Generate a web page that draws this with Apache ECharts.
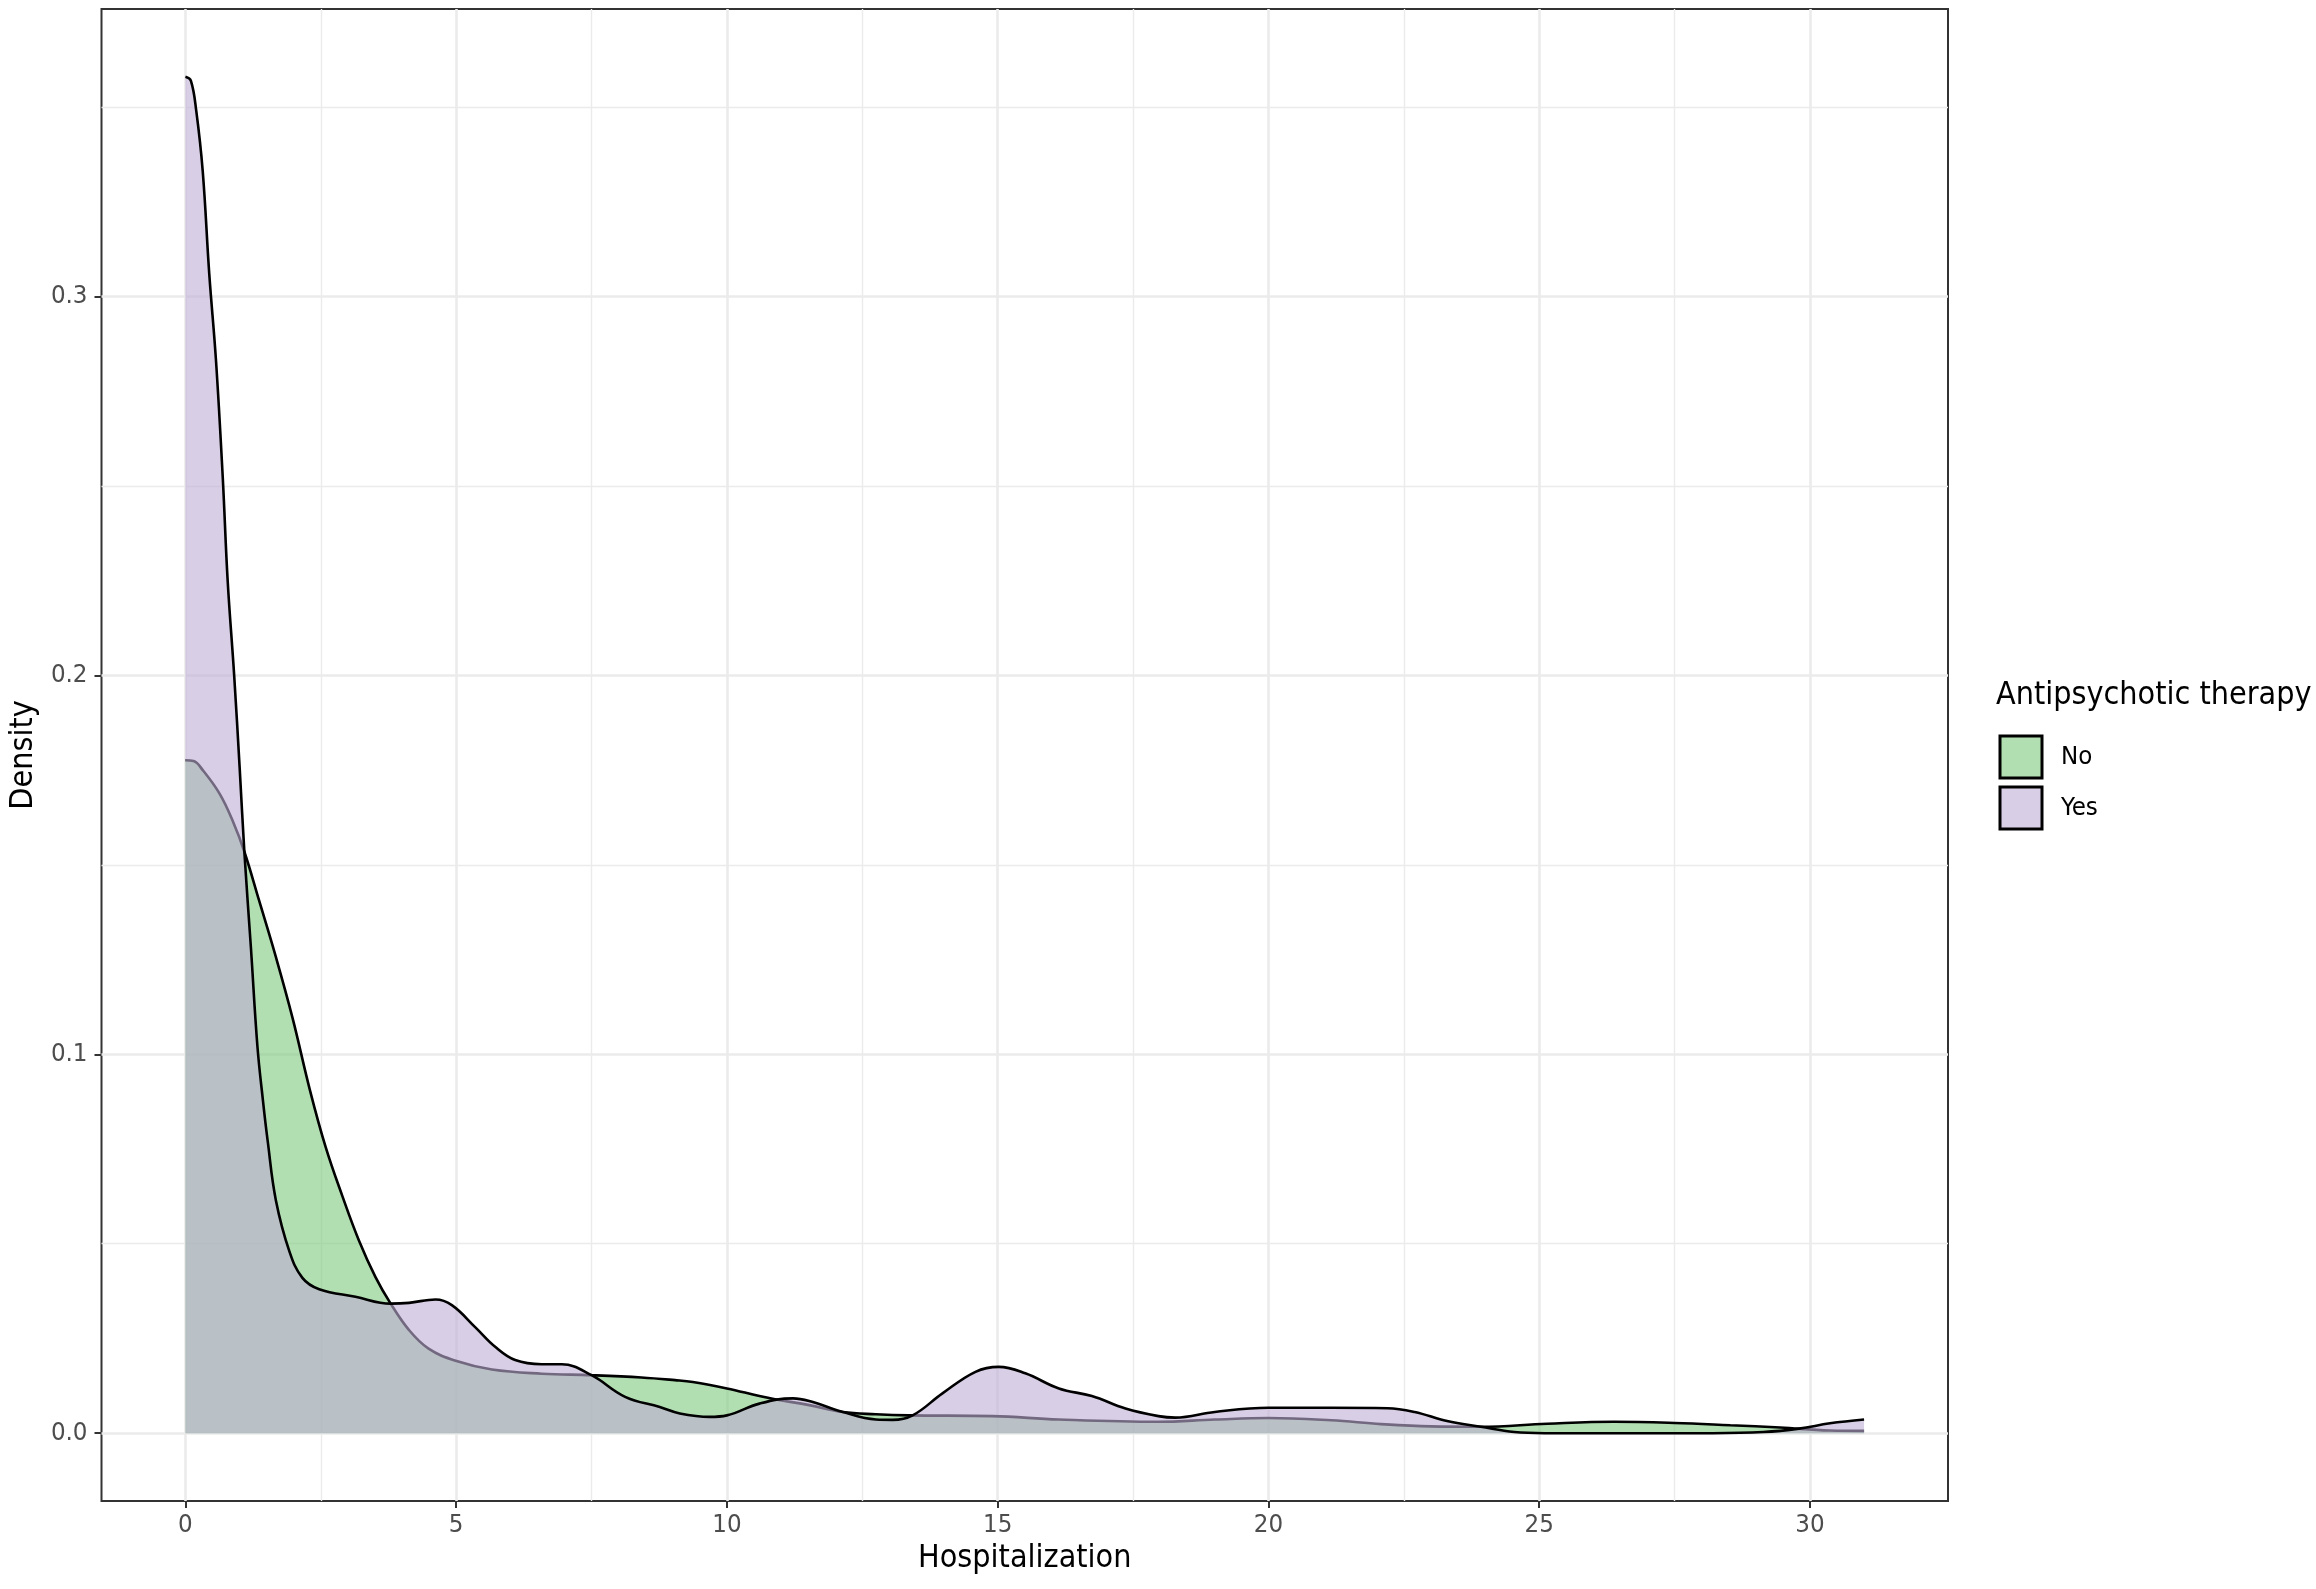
<!DOCTYPE html>
<html>
<head>
<meta charset="utf-8">
<script src="https://cdn.jsdelivr.net/npm/echarts@6/dist/echarts.min.js"></script>
<style>
html,body{margin:0;padding:0;background:#fff;}
#chart{width:2316px;height:1589px;}
</style>
</head>
<body>
<div id="chart"></div>
<script>
// ---- data ----
const groups = ['No', 'Yes'];

const noX = [0, 0.15, 0.32, 0.63, 0.87, 1.09, 1.36, 1.67, 1.98, 2.3, 2.59, 2.9, 3.2, 3.51, 3.79, 4.13, 4.49, 4.99, 5.66, 6.58, 7.5, 8.42, 9.04, 9.37, 10.0, 10.6, 10.91, 11.52, 12.14, 12.75, 13.36, 14.9, 16.13, 17.97, 19.01, 20.0, 21.16, 22.08, 23.0, 23.92, 25.15, 26.38, 27.5, 28.53, 29.45, 30.37, 31.0];
const noY = [0.1776, 0.1774, 0.175, 0.1688, 0.1617, 0.1534, 0.1406, 0.1257, 0.1095, 0.0905, 0.0755, 0.0625, 0.051, 0.0412, 0.0342, 0.0272, 0.0223, 0.0191, 0.0168, 0.0157, 0.0153, 0.0147, 0.014, 0.0135, 0.0118, 0.0098, 0.0089, 0.0074, 0.0056, 0.005, 0.0047, 0.0045, 0.0036, 0.003, 0.0036, 0.004, 0.0034, 0.0024, 0.0018, 0.0017, 0.0025, 0.003, 0.0027, 0.0021, 0.0015, 0.0007, 0.0006];

const yesX = [0, 0.1, 0.2, 0.32, 0.44, 0.565, 0.69, 0.78, 0.9, 1.0, 1.09, 1.21, 1.33, 1.43, 1.52, 1.67, 1.92, 2.16, 2.47, 3.14, 3.79, 4.13, 4.62, 4.92, 5.35, 5.72, 6.09, 6.58, 6.95, 7.5, 8.12, 8.76, 9.13, 9.68, 10.0, 10.6, 11.22, 11.52, 12.14, 12.75, 13.06, 13.43, 13.98, 14.59, 15.02, 15.51, 16.13, 16.74, 17.36, 17.97, 18.28, 19.01, 20.0, 21.16, 22.2, 22.7, 23.3, 23.92, 24.54, 25.1, 28.2, 29.14, 29.8, 30.37, 31.0];
const yesY = [0.358, 0.357, 0.349, 0.333, 0.306, 0.283, 0.252, 0.225, 0.2, 0.176, 0.153, 0.128, 0.102, 0.088, 0.077, 0.0615, 0.048, 0.041, 0.038, 0.036, 0.0342, 0.0344, 0.0353, 0.0338, 0.028, 0.0228, 0.0193, 0.0182, 0.0182, 0.0153, 0.0096, 0.0069, 0.0052, 0.0043, 0.0047, 0.0078, 0.0092, 0.0085, 0.0056, 0.0036, 0.0035, 0.0047, 0.0105, 0.0162, 0.0175, 0.0158, 0.0118, 0.0098, 0.0065, 0.0045, 0.0041, 0.0056, 0.0067, 0.0067, 0.0066, 0.0056, 0.0032, 0.0017, 0.0003, 0.0, 0.0, 0.0003, 0.0012, 0.0026, 0.0036];

const xMajorTicks = [0, 5, 10, 15, 20, 25, 30];
const xMinorTicks = [2.5, 7.5, 12.5, 17.5, 22.5, 27.5];
const yMajorTicks = [0, 0.1, 0.2, 0.3];
const yMinorTicks = [0.05, 0.15, 0.25, 0.35];
const xRange = [-1.55, 32.55];
const yRange = [-0.0179, 0.3759];

// ---- build ----
const FONT = "'DejaVu Sans Condensed', 'DejaVu Sans', sans-serif";
const zip = (xs, ys) => xs.map((x, i) => [x, ys[i]]);

const gridMajor = { color: '#ebebeb', width: 2.6, type: 'solid' };
const gridMinor = { color: '#ebebeb', width: 1.4, type: 'solid' };
const gridLines = [].concat(
  xMinorTicks.map(v => ({ xAxis: v, lineStyle: gridMinor })),
  yMinorTicks.map(v => ({ yAxis: v, lineStyle: gridMinor })),
  xMajorTicks.map(v => ({ xAxis: v, lineStyle: gridMajor })),
  yMajorTicks.map(v => ({ yAxis: v, lineStyle: gridMajor }))
);

const chart = echarts.init(document.getElementById('chart'), null, { renderer: 'canvas' });
chart.setOption({
  animation: false,
  backgroundColor: '#ffffff',
  textStyle: { fontFamily: FONT },
  title: {
    text: 'Antipsychotic therapy',
    left: 1996, top: 680, padding: 0,
    textStyle: { fontFamily: FONT, fontSize: 32, fontWeight: 'normal', color: '#000' }
  },
  legend: {
    data: [
      { name: groups[0], itemStyle: { color: '#b2dfb2', borderColor: '#000', borderWidth: 3 } },
      { name: groups[1], itemStyle: { color: '#d8cee5', borderColor: '#000', borderWidth: 3 } }
    ],
    orient: 'vertical',
    left: 1998.5, top: 734.5, padding: 0,
    icon: 'rect', itemWidth: 42, itemHeight: 42, itemGap: 6,
    selectedMode: false,
    textStyle: { fontFamily: FONT, fontSize: 25.6, color: '#000', padding: [0, 0, 0, 14] }
  },
  grid: {
    left: 100, top: 9, right: 368, bottom: 88,
    show: true, borderColor: '#333333', borderWidth: 2, backgroundColor: '#ffffff',
    containLabel: false
  },
  xAxis: {
    type: 'value', min: xRange[0], max: xRange[1],
    name: 'Hospitalization', nameLocation: 'middle', nameGap: 41,
    nameTextStyle: { fontFamily: FONT, fontSize: 32, color: '#000' },
    axisLine: { show: false, onZero: false },
    axisTick: { show: true, length: 7, lineStyle: { color: '#333333', width: 2 }, customValues: xMajorTicks },
    axisLabel: { show: true, margin: 11, fontFamily: FONT, fontSize: 25.6, color: '#4d4d4d', customValues: xMajorTicks,
      formatter: v => String(v) },
    splitLine: { show: false }, minorSplitLine: { show: false }
  },
  yAxis: {
    type: 'value', min: yRange[0], max: yRange[1],
    name: 'Density', nameLocation: 'middle', nameGap: 57, nameRotate: 90,
    nameTextStyle: { fontFamily: FONT, fontSize: 32, color: '#000' },
    axisLine: { show: false, onZero: false },
    axisTick: { show: true, length: 7, lineStyle: { color: '#333333', width: 2 }, customValues: yMajorTicks },
    axisLabel: { show: true, margin: 14, fontFamily: FONT, fontSize: 25.6, color: '#4d4d4d', customValues: yMajorTicks,
      formatter: v => v.toFixed(1) },
    splitLine: { show: false }, minorSplitLine: { show: false }
  },
  series: [
    {
      name: '__grid', type: 'line', data: [], silent: true, z: 1,
      markLine: { silent: true, symbol: ['none', 'none'], label: { show: false }, z: 1, animation: false,
        emphasis: { disabled: true }, data: gridLines }
    },
    {
      name: groups[0], type: 'line', data: zip(noX, noY), z: 2,
      smooth: 0.4, showSymbol: false, symbol: 'none',
      lineStyle: { color: '#000', width: 2.6 },
      itemStyle: { color: '#b2dfb2' },
      areaStyle: { color: 'rgba(127,201,127,0.6)', opacity: 1, origin: 'auto' },
      emphasis: { disabled: true }
    },
    {
      name: groups[1], type: 'line', data: zip(yesX, yesY), z: 3,
      smooth: 0.4, showSymbol: false, symbol: 'none',
      lineStyle: { color: '#000', width: 2.6 },
      itemStyle: { color: '#d8cee5' },
      areaStyle: { color: 'rgba(190,174,212,0.6)', opacity: 1, origin: 'auto' },
      emphasis: { disabled: true }
    }
  ]
});
</script>
</body>
</html>
